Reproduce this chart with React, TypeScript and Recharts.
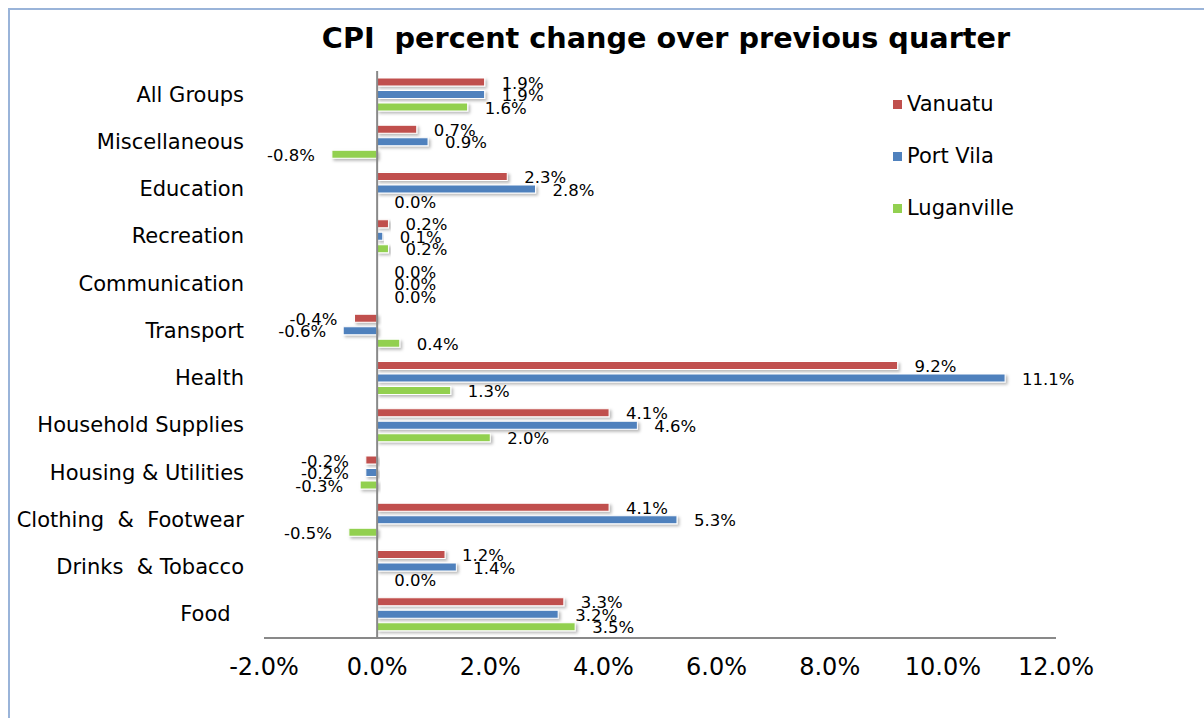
import React from "react";
import { BarChart, Bar, XAxis, YAxis, ReferenceLine, LabelList } from "recharts";

const categories = [
  "All Groups",
  "Miscellaneous",
  "Education",
  "Recreation",
  "Communication",
  "Transport",
  "Health",
  "Household Supplies",
  "Housing & Utilities",
  "Clothing  &  Footwear",
  "Drinks  & Tobacco",
  "Food  ",
];
const vanuatu = [1.9, 0.7, 2.3, 0.2, 0.0, -0.4, 9.2, 4.1, -0.2, 4.1, 1.2, 3.3];
const portVila = [1.9, 0.9, 2.8, 0.1, 0.0, -0.6, 11.1, 4.6, -0.2, 5.3, 1.4, 3.2];
const luganville = [1.6, -0.8, 0.0, 0.2, 0.0, 0.4, 1.3, 2.0, -0.3, -0.5, 0.0, 3.5];
const xTicks = [-2, 0, 2, 4, 6, 8, 10, 12];

const series = [
  { key: "vanuatu", name: "Vanuatu", color: "#C0504D" },
  { key: "portVila", name: "Port Vila", color: "#4F81BD" },
  { key: "luganville", name: "Luganville", color: "#92D050" },
];

const FONT = "'DejaVu Sans', Verdana, sans-serif";

const chartData = categories.map((name, i) => ({
  name,
  vanuatu: vanuatu[i],
  portVila: portVila[i],
  luganville: luganville[i],
}));

const ShadowBar = (props: any) => {
  const { x, y, width, height, fill } = props;
  const w = Math.abs(Number(width));
  if (!w) return null;
  const left = Math.min(Number(x), Number(x) + Number(width));
  return (
    <rect
      x={left}
      y={y}
      width={w}
      height={height}
      fill={fill}
      stroke="#ffffff"
      strokeWidth={1}
      filter="url(#barShadow)"
    />
  );
};

const renderLabel = (props: any) => {
  const x = Number(props.x);
  const width = Number(props.width);
  const y = Number(props.y);
  const height = Number(props.height);
  const value = Number(props.value);
  const left = Math.min(x, x + width);
  const right = Math.max(x, x + width);
  const neg = value < 0;
  return (
    <text
      x={neg ? left - 17 : right + 17}
      y={y + height / 2 + 1}
      textAnchor={neg ? "end" : "start"}
      dominantBaseline="central"
      fontSize={16.5}
      fontFamily={FONT}
      fill="#000"
    >
      {value.toFixed(1)}%
    </text>
  );
};

const CategoryTick = (props: any) => {
  const { x, y, payload } = props;
  return (
    <text
      x={x}
      y={y}
      textAnchor="end"
      dominantBaseline="central"
      fontSize={21}
      fontFamily={FONT}
      fill="#000"
      style={{ whiteSpace: "pre" }}
    >
      {payload.value}
    </text>
  );
};

export default function App() {
  return (
    <div
      style={{
        position: "absolute",
        left: 0,
        top: 0,
        width: 1204,
        height: 718,
        background: "#fff",
        overflow: "hidden",
        fontFamily: FONT,
      }}
    >
      <svg width={0} height={0} style={{ position: "absolute" }}>
        <defs>
          <filter id="barShadow" x="-10%" y="-60%" width="130%" height="260%">
            <feDropShadow dx="2" dy="2" stdDeviation="1.5" floodColor="#000" floodOpacity="0.28" />
          </filter>
        </defs>
      </svg>
      {/* chart frame, only the top and left edges are in view */}
      <div
        style={{
          position: "absolute",
          left: 8,
          top: 8,
          width: 1400,
          height: 900,
          border: "2px solid #9AB4D9",
        }}
      />
      <div
        style={{
          position: "absolute",
          left: 0,
          right: 0,
          top: 21,
          textAlign: "center",
          paddingLeft: 128,
          fontSize: 28.7,
          fontWeight: "bold",
          whiteSpace: "pre",
          color: "#000",
        }}
      >
        CPI  percent change over previous quarter
      </div>
      <div style={{ position: "absolute", left: 0, top: 0 }}>
        <BarChart
          width={1204}
          height={718}
          data={chartData}
          layout="vertical"
          margin={{ top: 71, right: 148, left: 0, bottom: 30 }}
          barSize={8}
          barGap={4.5}
        >
          <XAxis
            type="number"
            domain={[-2, 12]}
            ticks={xTicks}
            allowDataOverflow
            tickFormatter={(v: number) => `${v.toFixed(1)}%`}
            axisLine={{ stroke: "#898989", strokeWidth: 2 }}
            tickLine={false}
            tickSize={0}
            tickMargin={20}
            height={50}
            tick={{ fontSize: 24, fill: "#000", fontFamily: FONT }}
          />
          <YAxis
            type="category"
            dataKey="name"
            width={264}
            axisLine={false}
            tickLine={false}
            tickSize={0}
            tickMargin={20}
            interval={0}
            tick={<CategoryTick />}
          />
          {series.map((s) => (
            <Bar
              key={s.key}
              dataKey={s.key}
              name={s.name}
              fill={s.color}
              shape={<ShadowBar />}
              isAnimationActive={false}
            >
              <LabelList dataKey={s.key} content={renderLabel} />
            </Bar>
          ))}
          <ReferenceLine x={0} stroke="#898989" strokeWidth={2} />
        </BarChart>
      </div>
      <div style={{ position: "absolute", left: 893, top: 88 }}>
        {series.map((s) => (
          <div
            key={s.key}
            style={{ display: "flex", alignItems: "center", height: 32, marginBottom: 20 }}
          >
            <div style={{ width: 9, height: 9, background: s.color, marginRight: 5 }} />
            <span style={{ fontSize: 21, color: "#000" }}>{s.name}</span>
          </div>
        ))}
      </div>
    </div>
  );
}
